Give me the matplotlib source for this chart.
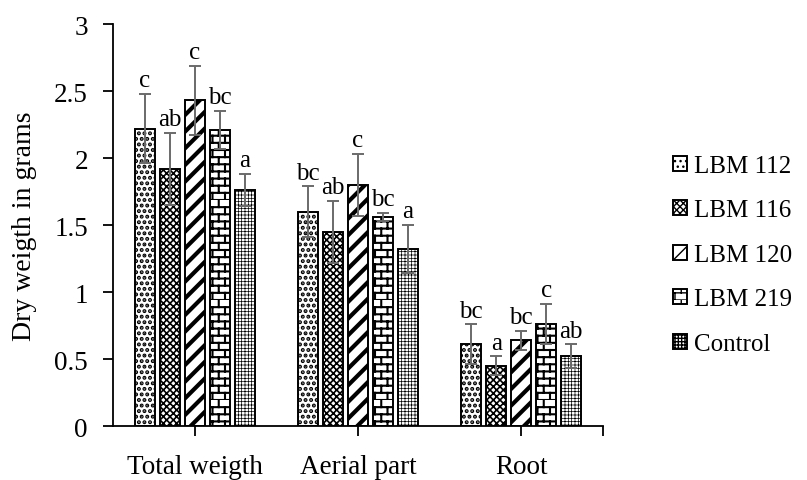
import warnings
import numpy as np
import matplotlib
matplotlib.use("Agg")
import matplotlib.pyplot as plt
from matplotlib import hatch as mhatch
from matplotlib.path import Path

warnings.filterwarnings("ignore")

categories = ["Total weigth", "Aerial part", "Root"]
series = ["LBM 112", "LBM 116", "LBM 120", "LBM 219", "Control"]

lbm112 = [2.22, 1.60, 0.61]
lbm116 = [1.92, 1.45, 0.45]
lbm120 = [2.43, 1.80, 0.64]
lbm219 = [2.21, 1.56, 0.76]
control = [1.76, 1.32, 0.52]

err112 = [0.26, 0.19, 0.15]
err116 = [0.27, 0.23, 0.07]
err120 = [0.26, 0.23, 0.07]
err219 = [0.14, 0.03, 0.15]
errctl = [0.12, 0.18, 0.09]

let112 = ["c", "bc", "bc"]
let116 = ["ab", "ab", "a"]
let120 = ["c", "c", "bc"]
let219 = ["bc", "bc", "c"]
letctl = ["a", "a", "ab"]


# brick pattern, triggered by 'b' in the hatch string
class BrickHatch(mhatch.HatchPatternBase):
    def __init__(self, hatch, density):
        n = hatch.count('b')
        self.rows = 14 * n
        self.cols = 8 * n
        self.num_vertices = (self.rows + self.rows * self.cols) * 2 if n else 0

    def set_vertices_and_codes(self, vertices, codes):
        rh = 1.0 / self.rows
        cw = 1.0 / self.cols
        k = 0
        for r in range(self.rows):
            y = r * rh
            vertices[k] = (0.0, y); vertices[k + 1] = (1.0, y)
            k += 2
            off = 0.0 if r % 2 == 0 else cw / 2
            for c in range(self.cols):
                x = c * cw + off
                vertices[k] = (x, y); vertices[k + 1] = (x, y + rh)
                k += 2
        codes[0::2] = Path.MOVETO
        codes[1::2] = Path.LINETO


mhatch._hatch_types.append(BrickHatch)

plt.rcParams['font.family'] = ['Liberation Serif', 'DejaVu Serif']

values = [lbm112, lbm116, lbm120, lbm219, control]
errors = [err112, err116, err120, err219, errctl]
letters = [let112, let116, let120, let219, letctl]
hatches = ['...', 'xxxxx', '//', 'b', '+++++']
hatch_lw = [2.0, 1.2, 3.0, 1.5, 0.5]

fig = plt.figure(figsize=(8.07, 4.81), dpi=100)
ax = fig.add_axes([0.140, 0.112, 0.607, 0.836])

x = np.arange(len(categories))
width = 0.1225
step = 0.153

handles = []
for i, name in enumerate(series):
    pos = x + (i - 2) * step
    bars = ax.bar(pos, values[i], width, color='white', edgecolor='black',
                  linewidth=1.4, hatch=hatches[i], label=name, zorder=2)
    for b in bars:
        if hasattr(b, 'set_hatch_linewidth'):
            b.set_hatch_linewidth(hatch_lw[i])
    handles.append(bars)
    ax.errorbar(pos, values[i], yerr=errors[i], fmt='none', ecolor='#6a6a6a',
                elinewidth=1.4, capsize=4.5, capthick=1.4, zorder=3)
    for p, v, e, t in zip(pos, values[i], errors[i], letters[i]):
        ax.text(p, v + e + 0.02, t, ha='center', va='bottom', fontsize=18)

ax.set_xlim(-0.5, 2.5)
ax.set_ylim(0, 3)
ax.set_yticks([0, 0.5, 1, 1.5, 2, 2.5, 3])
ax.set_yticklabels(['0', '0.5', '1', '1.5', '2', '2.5', '3'], fontsize=19.5)
ax.set_xticks([0, 1, 2, 2.5])
ax.set_xticklabels(categories + [''], fontsize=19.5)
ax.tick_params(axis='y', length=7, width=1.3, pad=11)
ax.tick_params(axis='x', length=7, width=1.3, pad=13)
ax.spines['top'].set_visible(False)
ax.spines['right'].set_visible(False)
ax.spines['left'].set_linewidth(1.3)
ax.spines['bottom'].set_linewidth(1.3)
ax.set_ylabel('Dry weigth in grams', fontsize=20, labelpad=12)

fig.legend(handles, series, loc='center left', bbox_to_anchor=(0.834, 0.468),
           frameon=False, fontsize=18, handlelength=0.55, handleheight=0.55,
           handletextpad=0.3, labelspacing=0.9, borderpad=0, borderaxespad=0)

fig.savefig('out.png', dpi=100)
